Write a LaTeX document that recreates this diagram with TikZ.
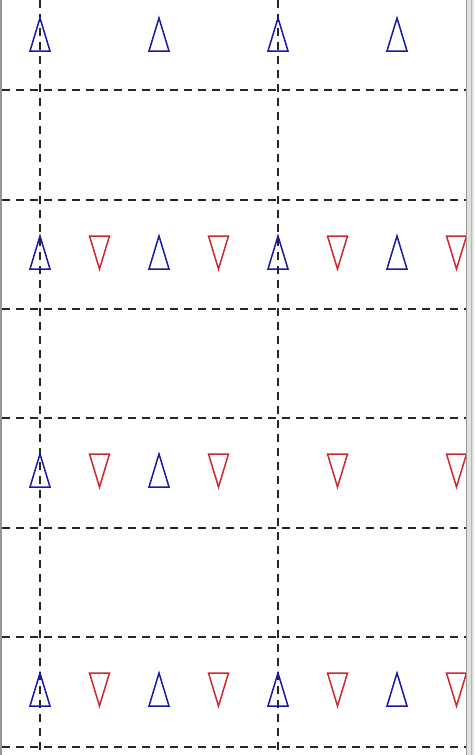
\documentclass[tikz,border=0pt]{standalone}
\definecolor{markblue}{RGB}{25,25,165}
\definecolor{markred}{RGB}{205,40,45}
\definecolor{framegray}{RGB}{150,150,150}
\definecolor{framepale}{RGB}{225,225,222}

\begin{document}
\begin{tikzpicture}[
  x=1pt, y=-1pt,
  gridline/.style={black!85, line width=2pt, dash pattern=on 8pt off 6pt},
  upmark/.pic={\draw[markblue, line width=1.5pt] (-10,16) -- (0,-17) -- (10,16) -- cycle;},
  downmark/.pic={\draw[markred, line width=1.5pt] (-10,-17) -- (0,16) -- (10,-17) -- cycle;}
]
  \useasboundingbox (0,0) rectangle (474,755);
  \fill[white] (0,0) rectangle (474,755);

  \begin{scope}
    \clip (2,0) rectangle (466,755);
    % horizontal grid
    \foreach \gy in {90,200,309,418,528,637,747} {
      \draw[gridline] (2,\gy) -- (466,\gy);
    }
    % vertical grid
    \foreach \gx in {40,278} {
      \draw[gridline] (\gx,0) -- (\gx,755);
    }

    % row 1: blue only
    \foreach \i in {0,2,4,6} {
      \pic at (40+59.5*\i,35) {upmark};
    }
    % rows 2 and 4: full
    \foreach \ry in {253,690} {
      \foreach \i in {0,2,4,6} {
        \pic at (40+59.5*\i,\ry) {upmark};
      }
      \foreach \i in {1,3,5,7} {
        \pic at (40+59.5*\i,\ry) {downmark};
      }
    }
    % row 3
    \foreach \i in {0,2} {
      \pic at (40+59.5*\i,471) {upmark};
    }
    \foreach \i in {1,3,5,7} {
      \pic at (40+59.5*\i,471) {downmark};
    }
  \end{scope}

  % window frame
  \fill[framegray] (0,0) rectangle (2,755);
  \fill[framepale] (466,0) rectangle (474,755);
  \draw[framegray, line width=1pt] (466.5,0) -- (466.5,755);
  \draw[framegray!70, line width=1pt] (471,0) -- (471,755);
\end{tikzpicture}
\end{document}
